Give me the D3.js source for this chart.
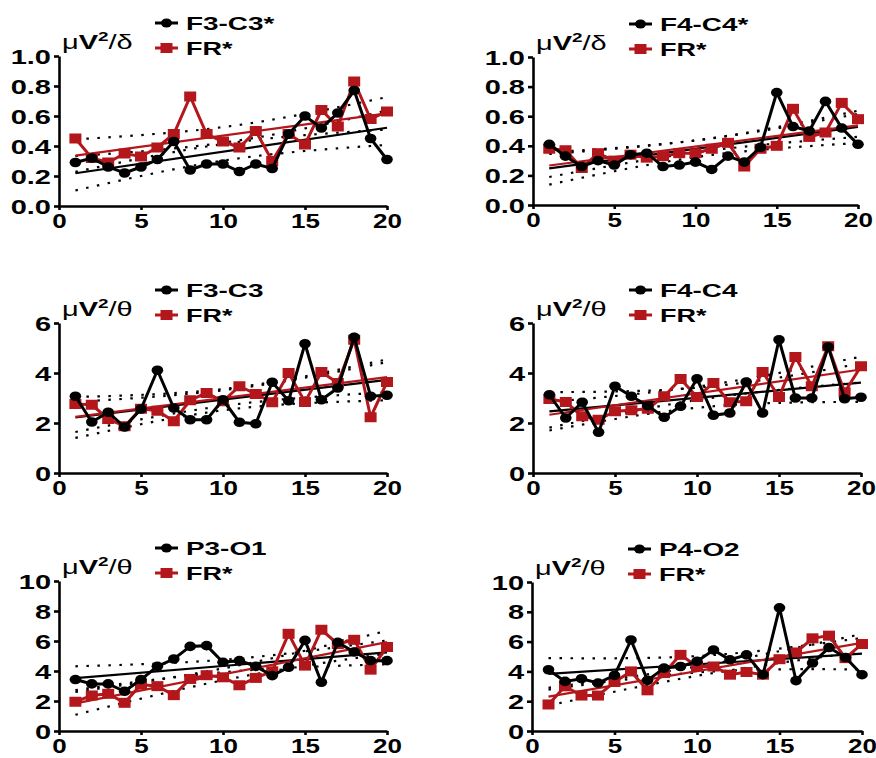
<!DOCTYPE html>
<html>
<head>
<meta charset="utf-8">
<script src="https://cdn.jsdelivr.net/npm/d3@7"></script>
<style>
  html, body { margin: 0; padding: 0; background: #fff; }
  svg { display: block; }
  text { font-family: "Liberation Sans", Arial, Helvetica, sans-serif; font-weight: bold; fill: #000; }
</style>
</head>
<body>
<svg id="chart" width="876" height="758"></svg>
<script>
// ---------------- DATA ----------------
const sessions = [1,2,3,4,5,6,7,8,9,10,11,12,13,14,15,16,17,18,19,20];
const xTicks = [0,5,10,15,20];
const yTicksDelta = [0,0.2,0.4,0.6,0.8,1.0];
const yTicksTheta6 = [0,2,4,6];
const yTicksTheta10 = [0,2,4,6,8,10];

const seriesNames = ["F3-C3*","F4-C4*","F3-C3","F4-C4","P3-O1","P4-O2"];
const frName = "FR*";
const yLabelBands = ["δ","δ","θ","θ","θ","θ"];

const f3c3Delta = [0.29,0.32,0.26,0.22,0.26,0.31,0.43,0.24,0.28,0.28,0.23,0.28,0.25,0.48,0.60,0.52,0.62,0.77,0.45,0.31];
const frDeltaF3 = [0.45,0.32,0.29,0.35,0.33,0.39,0.48,0.73,0.48,0.43,0.39,0.50,0.30,0.48,0.41,0.64,0.53,0.83,0.58,0.63];

const f4c4Delta = [0.41,0.33,0.26,0.30,0.27,0.34,0.35,0.26,0.27,0.29,0.24,0.33,0.29,0.39,0.76,0.53,0.50,0.70,0.52,0.41];
const frDeltaF4 = [0.38,0.37,0.25,0.35,0.30,0.34,0.32,0.33,0.35,0.35,0.38,0.42,0.26,0.38,0.40,0.65,0.46,0.49,0.69,0.58];

const f3c3Theta = [3.07,2.04,2.43,1.84,2.56,4.11,2.60,2.13,2.13,2.93,2.03,1.97,3.63,2.89,5.17,2.93,3.40,5.43,3.07,3.11];
const frThetaF3 = [2.76,2.73,2.16,1.87,2.57,2.49,2.07,2.91,3.20,2.87,3.47,3.16,2.83,4.00,2.84,4.04,3.60,5.33,2.23,3.64];

const f4c4Theta = [3.13,2.20,2.83,1.63,3.47,3.07,2.69,2.23,2.67,3.77,2.31,2.40,3.64,2.40,5.33,3.00,3.00,5.04,2.97,3.03];
const frThetaF4 = [2.96,2.84,2.27,2.13,2.47,2.51,2.57,3.07,3.76,3.04,3.60,2.83,2.87,4.04,3.04,4.64,3.47,5.07,3.23,4.27];

const p3o1Theta = [3.43,3.14,3.14,2.65,3.43,4.31,4.80,5.64,5.69,4.58,4.69,4.31,3.69,4.25,6.04,3.25,5.91,5.27,4.69,4.69];
const frThetaP3 = [1.95,2.37,2.48,1.88,3.10,2.99,2.39,3.47,3.72,3.58,3.05,3.54,3.98,6.48,4.36,6.75,5.80,6.08,4.09,5.60];

const p4o2Theta = [4.11,3.33,3.51,3.22,3.73,6.11,3.40,4.22,4.33,4.67,5.44,4.78,5.11,3.78,8.27,3.38,4.56,5.60,4.93,3.78];
const frThetaP4 = [1.78,3.00,2.38,2.38,3.29,4.00,2.73,3.89,5.11,4.33,4.33,3.78,3.96,3.78,4.82,5.27,6.22,6.40,4.89,5.84];

// ---------------- LAYOUT ----------------
const RED = "#b3161b";
const svg = d3.select("#chart");

const panels = [
  {name: seriesNames[0], band: yLabelBands[0], black: f3c3Delta, red: frDeltaF3, yTicks: yTicksDelta, fmt: d3.format(".1f"), box: {l:59, r:387, t:56, b:206}},
  {name: seriesNames[1], band: yLabelBands[1], black: f4c4Delta, red: frDeltaF4, yTicks: yTicksDelta, fmt: d3.format(".1f"), box: {l:533, r:858, t:57, b:205}},
  {name: seriesNames[2], band: yLabelBands[2], black: f3c3Theta, red: frThetaF3, yTicks: yTicksTheta6, fmt: d3.format("d"), box: {l:59, r:387, t:323, b:473}},
  {name: seriesNames[3], band: yLabelBands[3], black: f4c4Theta, red: frThetaF4, yTicks: yTicksTheta6, fmt: d3.format("d"), box: {l:533, r:861, t:323, b:473}},
  {name: seriesNames[4], band: yLabelBands[4], black: p3o1Theta, red: frThetaP3, yTicks: yTicksTheta10, fmt: d3.format("d"), box: {l:59, r:387, t:581, b:731}},
  {name: seriesNames[5], band: yLabelBands[5], black: p4o2Theta, red: frThetaP4, yTicks: yTicksTheta10, fmt: d3.format("d"), box: {l:532, r:862, t:582, b:731}}
];

function fit(xs, ys) {
  const n = xs.length;
  const mx = d3.mean(xs), my = d3.mean(ys);
  let sxx = 0, sxy = 0;
  xs.forEach((x, i) => { sxx += (x - mx) ** 2; sxy += (x - mx) * (ys[i] - my); });
  const b = sxy / sxx, a = my - b * mx;
  let sse = 0;
  xs.forEach((x, i) => { sse += (ys[i] - (a + b * x)) ** 2; });
  const s = Math.sqrt(sse / (n - 2));
  const t = 2.101; // t(0.975, 18)
  const pred = x => a + b * x;
  const half = x => t * s * Math.sqrt(1 / n + (x - mx) ** 2 / sxx);
  return {pred, half};
}

function stretchText(g, x, y, str, anchor, sx, size) {
  return g.append("text")
    .attr("transform", `translate(${x},${y}) scale(${sx},1)`)
    .attr("text-anchor", anchor)
    .style("font-size", size + "px")
    .text(str);
}

panels.forEach(p => {
  const B = p.box;
  const x = d3.scaleLinear().domain([0, 20]).range([B.l, B.r]);
  const y = d3.scaleLinear().domain([0, d3.max(p.yTicks)]).range([B.b, B.t]);
  const g = svg.append("g");

  // confidence bands + regression lines
  const bandLine = d3.line().x(d => x(d[0])).y(d => y(d[1])).curve(d3.curveMonotoneX);
  [p.black, p.red].forEach((vals, k) => {
    const f = fit(sessions, vals);
    const upper = sessions.map(s => [s, f.pred(s) + f.half(s)]);
    const lower = sessions.map(s => [s, f.pred(s) - f.half(s)]);
    [upper, lower].forEach(arr => {
      g.append("path").attr("d", bandLine(arr))
        .attr("fill", "none").attr("stroke", "#000")
        .attr("stroke-width", 2.2).attr("stroke-dasharray", "2.5,8.5");
    });
  });
  [p.black, p.red].forEach((vals, k) => {
    const f = fit(sessions, vals);
    const ends = [sessions[0], sessions[sessions.length - 1]];
    g.append("line")
      .attr("x1", x(ends[0])).attr("y1", y(f.pred(ends[0])))
      .attr("x2", x(ends[1])).attr("y2", y(f.pred(ends[1])))
      .attr("stroke", k === 0 ? "#000" : RED).attr("stroke-width", 2.2);
  });

  const dataLine = d3.line().x((d, i) => x(sessions[i])).y(d => y(d));

  // red series (FR)
  g.append("path").attr("d", dataLine(p.red)).attr("fill", "none")
    .attr("stroke", RED).attr("stroke-width", 3).attr("stroke-linejoin", "miter");
  g.selectAll(".sq").data(p.red).enter().append("rect")
    .attr("x", (d, i) => x(sessions[i]) - 6).attr("y", d => y(d) - 5)
    .attr("width", 12).attr("height", 10).attr("fill", RED);

  // black series
  g.append("path").attr("d", dataLine(p.black)).attr("fill", "none")
    .attr("stroke", "#000").attr("stroke-width", 3);
  g.selectAll(".ci").data(p.black).enter().append("ellipse")
    .attr("cx", (d, i) => x(sessions[i])).attr("cy", d => y(d))
    .attr("rx", 5.8).attr("ry", 4.8).attr("fill", "#000");

  // axes
  const yAxis = d3.axisLeft(y).tickValues(p.yTicks).tickFormat(p.fmt).tickSize(5).tickSizeOuter(0);
  const ya = g.append("g").attr("transform", `translate(${B.l},0)`).call(yAxis);
  ya.select(".domain").attr("stroke-width", 2.6);
  ya.selectAll(".tick line").attr("stroke-width", 2.6);
  ya.selectAll(".tick text")
    .attr("x", null).attr("dy", null)
    .attr("transform", "translate(-8,7) scale(1.45,1)")
    .style("font-size", "20px");
  ya.attr("font-family", null).attr("font-size", null);

  const xAxis = d3.axisBottom(x).tickValues(xTicks).tickFormat(d3.format("d")).tickSize(4).tickSizeOuter(0);
  const xa = g.append("g").attr("transform", `translate(0,${B.b})`).call(xAxis);
  xa.select(".domain").attr("stroke-width", 2.6);
  xa.selectAll(".tick line").attr("stroke-width", 2.6);
  xa.selectAll(".tick text")
    .attr("y", null).attr("dy", null)
    .attr("transform", "translate(0,22) scale(1.3,1)")
    .style("font-size", "20px");
  xa.attr("font-family", null).attr("font-size", null);

  // y label  μV²/δ
  const yl = g.append("text")
    .attr("transform", `translate(${B.l + 3},${B.t - 7}) scale(1.45,1)`)
    .style("font-size", "20px");
  yl.append("tspan").style("font-weight", "normal").text("μ");
  yl.append("tspan").text("V");
  yl.append("tspan").attr("dy", -8).style("font-size", "13px").text("2");
  yl.append("tspan").attr("dy", 8).style("font-weight", "normal").text("/" + p.band);

  // legend
  const lx = B.l + 96, r1 = B.t - 33, r2 = B.t - 8;
  g.append("line").attr("x1", lx).attr("x2", lx + 23).attr("y1", r1).attr("y2", r1)
    .attr("stroke", "#000").attr("stroke-width", 3);
  g.append("ellipse").attr("cx", lx + 11.5).attr("cy", r1).attr("rx", 5.5).attr("ry", 4.6).attr("fill", "#000");
  stretchText(g, lx + 31, r1 + 7, p.name, "start", 1.55, 18);

  g.append("line").attr("x1", lx).attr("x2", lx + 23).attr("y1", r2).attr("y2", r2)
    .attr("stroke", RED).attr("stroke-width", 3);
  g.append("rect").attr("x", lx + 5.5).attr("y", r2 - 5).attr("width", 12).attr("height", 10).attr("fill", RED);
  stretchText(g, lx + 31, r2 + 7, frName, "start", 1.5, 18);
});
</script>
</body>
</html>
